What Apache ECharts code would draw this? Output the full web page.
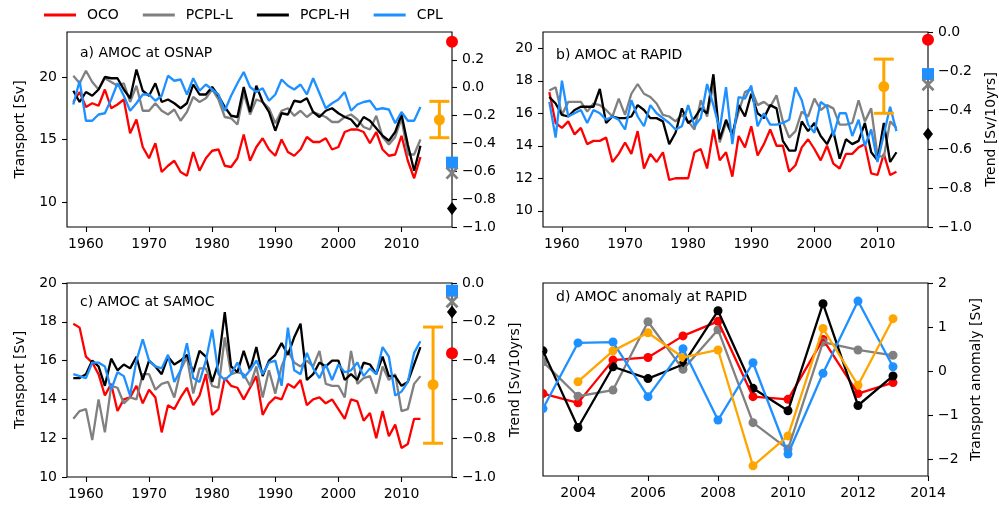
<!DOCTYPE html>
<html>
<head>
<meta charset="utf-8">
<script src="https://cdn.jsdelivr.net/npm/echarts@6/dist/echarts.min.js"></script>
<style>
  html, body { margin: 0; padding: 0; background: #fff; }
  #chart { width: 999px; height: 505px; }
</style>
</head>
<body>
<div id="chart"></div>
<script>
// ---- annual transport series, 1958-2013 ----
const YEARS = [1958,1959,1960,1961,1962,1963,1964,1965,1966,1967,
  1968,1969,1970,1971,1972,1973,1974,1975,1976,1977,
  1978,1979,1980,1981,1982,1983,1984,1985,1986,1987,
  1988,1989,1990,1991,1992,1993,1994,1995,1996,1997,
  1998,1999,2000,2001,2002,2003,2004,2005,2006,2007,
  2008,2009,2010,2011,2012,2013];

// OSNAP [Sv]
const osnapOCO = [18.0,18.8,17.6,17.9,17.7,19.0,17.5,17.8,18.2,15.5,
  16.6,14.4,13.5,14.7,12.4,12.9,13.3,12.4,12.1,14.0,
  12.5,13.5,14.1,14.2,12.9,12.8,13.5,15.4,13.3,14.4,
  15.1,14.2,13.7,15.0,14.0,13.7,14.2,15.2,14.8,14.8,
  15.1,14.2,14.4,15.6,15.8,15.8,15.6,14.7,15.6,14.2,
  13.7,13.8,15.3,13.3,11.9,13.6];
const osnapPCPLL = [20.1,19.5,20.5,19.6,19.0,19.9,19.6,19.3,19.5,18.0,
  19.3,17.3,17.3,17.9,17.3,17.0,17.4,16.5,17.2,18.4,
  18.0,18.3,19.0,18.2,16.8,16.7,16.2,18.7,17.0,18.2,
  18.0,17.5,16.3,17.3,17.5,16.9,17.3,16.8,17.2,17.0,
  16.8,16.4,16.4,16.8,17.0,16.6,16.0,15.8,16.9,15.2,
  14.6,15.2,16.7,13.8,13.8,15.0];
const osnapPCPLH = [18.9,18.0,18.8,18.5,19.0,20.0,19.9,19.9,19.0,18.3,
  20.6,18.9,18.5,19.5,18.0,18.2,17.9,17.5,17.9,19.4,
  18.6,18.6,19.2,18.5,17.6,16.9,16.8,19.2,17.2,19.3,
  18.0,17.2,15.7,17.1,17.0,18.1,18.0,18.3,17.2,16.8,
  17.3,17.5,17.1,16.8,16.6,16.0,16.8,16.5,15.9,15.3,
  14.9,15.6,17.0,14.6,12.5,14.5];
const osnapCPL = [17.8,19.7,16.5,16.5,17.0,17.1,18.2,19.5,18.5,17.3,
  17.9,18.6,18.6,18.1,18.5,20.1,19.7,19.8,18.6,19.9,
  18.9,19.4,19.0,18.6,17.3,18.5,19.5,20.4,19.2,18.8,
  19.1,18.1,18.6,19.8,19.3,19.0,19.4,18.6,19.9,18.7,
  17.5,17.9,18.2,18.8,17.3,17.8,18.0,18.1,17.4,17.5,
  17.4,16.3,17.2,16.5,16.5,17.6];

// RAPID [Sv]
const rapidOCO = [17.3,15.4,15.1,15.5,14.7,15.1,14.1,14.3,14.3,14.5,
  13.0,13.5,14.2,13.5,14.9,12.6,13.5,13.0,13.6,11.9,
  12.0,12.0,12.0,13.6,13.8,12.6,15.0,13.1,13.6,12.1,
  14.6,13.9,15.2,13.4,14.1,15.0,14.0,14.0,12.4,12.8,
  13.9,14.4,13.8,13.1,14.0,12.9,12.6,13.5,13.5,13.9,
  14.1,12.3,12.2,13.5,12.2,12.4];
const rapidPCPLL = [17.4,17.6,15.9,16.7,16.7,16.7,16.1,16.6,16.5,16.2,
  15.8,16.9,15.9,17.2,17.8,17.2,17.0,16.6,15.9,15.8,
  15.5,15.9,15.5,15.0,16.8,15.8,17.8,14.2,15.4,14.7,
  16.1,17.3,17.5,16.5,16.7,16.4,17.1,15.5,14.5,14.9,
  16.1,15.8,16.9,16.2,16.5,16.3,15.3,15.3,15.4,16.8,
  15.5,16.3,13.4,13.3,15.5,15.1];
const rapidPCPLH = [17.0,16.6,15.9,15.8,16.2,16.4,16.4,16.4,17.5,15.4,
  15.8,15.7,15.7,15.8,16.5,16.2,15.7,15.7,15.5,14.1,
  14.8,16.3,15.4,15.7,16.3,16.0,18.4,14.4,15.6,14.6,
  16.5,15.8,17.2,16.0,15.7,16.5,16.3,14.3,13.7,13.7,
  15.5,14.9,15.4,14.6,14.1,14.9,13.2,14.4,14.1,14.3,
  15.4,13.6,13.1,15.4,13.0,13.6];
const rapidCPL = [16.7,14.5,18.0,15.8,16.0,16.2,15.4,16.2,16.0,15.6,
  15.8,15.6,15.0,16.8,15.8,15.2,16.5,16.0,15.7,15.4,
  15.0,15.2,16.5,15.2,15.7,17.8,16.5,15.0,17.6,14.1,
  17.0,16.9,17.7,15.2,16.0,15.3,15.3,15.4,15.6,17.6,
  16.8,15.3,14.8,16.7,16.4,14.6,16.0,16.0,14.6,15.6,
  14.0,15.0,13.0,14.7,16.4,14.9];

// SAMOC [Sv]
const samocOCO = [17.9,17.7,16.2,15.9,15.3,14.2,14.8,13.4,14.0,14.1,
  14.7,13.8,14.5,14.1,12.3,13.7,13.5,14.1,14.6,13.7,
  14.2,15.3,13.2,13.5,15.1,14.7,14.6,14.0,14.6,15.2,
  13.2,13.8,14.1,14.0,14.8,14.6,15.0,13.7,14.0,14.1,
  13.8,14.0,13.5,13.0,14.0,13.9,12.9,13.3,12.0,13.4,
  12.1,12.7,11.5,11.7,13.0,13.0];
const samocPCPLL = [13.0,13.4,13.5,11.9,14.0,12.3,14.7,14.6,13.8,14.1,
  14.0,15.3,15.3,14.5,14.8,14.9,14.1,15.5,16.2,14.3,
  15.6,15.6,14.7,14.6,17.2,15.3,15.4,15.3,14.7,15.7,
  14.1,15.5,14.3,15.7,16.5,15.9,15.7,16.0,15.7,16.5,
  14.8,14.7,14.7,14.1,16.5,14.8,15.1,15.2,14.3,15.7,
  15.0,15.3,13.4,13.5,14.8,15.2];
const samocPCPLH = [15.1,15.1,15.3,16.0,15.7,14.7,16.1,15.5,15.8,15.6,
  16.2,15.0,16.0,15.7,15.3,16.2,15.8,16.0,16.3,15.4,
  16.5,16.2,14.9,15.9,18.5,15.7,15.4,16.5,15.5,16.7,
  15.2,16.0,16.3,16.9,16.3,17.2,17.9,15.0,15.3,15.9,
  15.7,16.0,16.0,15.0,15.3,15.0,15.9,15.8,15.3,16.2,
  15.2,15.2,14.7,14.9,15.8,16.7];
const samocCPL = [15.3,15.2,15.1,15.9,15.9,15.7,14.5,15.4,15.2,14.2,
  16.0,17.1,16.0,15.7,15.6,16.3,14.9,15.5,16.9,15.1,
  14.9,16.0,17.6,15.3,15.0,15.3,15.9,15.1,15.5,16.0,
  15.3,15.9,16.0,14.7,17.7,15.5,15.3,16.4,15.6,15.1,
  15.8,15.0,15.8,15.4,15.5,15.9,15.2,15.6,15.3,16.7,
  16.2,14.2,14.4,14.9,16.4,17.0];

// ---- linear trends [Sv/10yrs]: OCO, PCPL-L, PCPL-H, CPL ----
const TREND_X = 2018;
const osnapTrend = { OCO: 0.33, PCPLL: -0.613, PCPLH: -0.868, CPL: -0.538 };
const rapidTrend = { OCO: -0.04, PCPLL: -0.27, PCPLH: -0.523, CPL: -0.216 };
const samocTrend = { OCO: -0.362, PCPLL: -0.097, PCPLH: -0.149, CPL: -0.04 };
// observed trend with uncertainty: [year, mean, low, high]
const osnapObsTrend = [2016, -0.23, -0.359, -0.098];
const rapidObsTrend = [2011, -0.28, -0.417, -0.139];
const samocObsTrend = [2015, -0.524, -0.826, -0.227];

// ---- RAPID annual anomaly [Sv] ----
const ANOM_YEARS = [2003,2004,2005,2006,2007,2008,2009,2010,2011,2012,2013];
const anomOCO   = [-0.51,-0.72,0.25,0.31,0.80,1.13,-0.58,-0.64,0.72,-0.51,-0.26];
const anomPCPLL = [0.21,-0.57,-0.43,1.12,0.04,0.94,-1.17,-1.77,0.66,0.48,0.36];
const anomPCPLH = [0.46,-1.28,0.10,-0.17,0.15,1.37,-0.39,-0.90,1.53,-0.78,-0.11];
const anomCPL   = [-0.85,0.64,0.66,-0.58,0.51,-1.11,0.19,-1.88,-0.05,1.59,0.10];
const OBS_YEARS = [2004,2005,2006,2007,2008,2009,2010,2011,2012,2013];
const anomObs   = [-0.24,0.46,0.87,0.31,0.48,-2.15,-1.47,0.97,-0.32,1.19];

// ---- tick positions ----
const DECADE_TICKS = [1960,1970,1980,1990,2000,2010];
const ANOM_X_TICKS = [2004,2006,2008,2010,2012,2014];
const OSNAP_TICKS = [10,15,20];
const RAPID_TICKS = [10,12,14,16,18,20];
const SAMOC_TICKS = [10,12,14,16,18,20];
const TREND_TICKS_A = [-1.0,-0.8,-0.6,-0.4,-0.2,0.0,0.2];
const TREND_TICKS = [-1.0,-0.8,-0.6,-0.4,-0.2,0.0];
const ANOM_Y_TICKS = [-2,-1,0,1,2];

// ---- styling ----
const FONT = 'DejaVu Sans';
const C = { OCO: '#ff0000', PCPLL: '#808080', PCPLH: '#000000', CPL: '#1e90ff', OBS: '#ffa500' };
const NAMES = { OCO: 'OCO', PCPLL: 'PCPL-L', PCPLH: 'PCPL-H', CPL: 'CPL' };
const LW = 2.3;
const MINUS = '\u2212';
const fmt1 = v => (v < 0 ? MINUS : '') + Math.abs(v).toFixed(1);
const fmt0 = v => (v < 0 ? MINUS : '') + Math.abs(v).toFixed(0);
const X_SYMBOL = 'path://M0,1.5 L1.5,0 L5,3.5 L8.5,0 L10,1.5 L6.5,5 L10,8.5 L8.5,10 L5,6.5 L1.5,10 L0,8.5 L3.5,5 Z';

const grids = [
  { left: 67,  top: 32,  width: 385, height: 195 },
  { left: 543, top: 32,  width: 385, height: 195 },
  { left: 67,  top: 283, width: 385, height: 194 },
  { left: 543, top: 283, width: 385, height: 193 }
].map(g => Object.assign(g, { show: true, borderColor: '#000', borderWidth: 1.1, backgroundColor: 'transparent', containLabel: false }));

function axisCommon(ticks, formatter, margin) {
  return {
    axisLine: { show: false, onZero: false },
    axisTick: { show: true, inside: false, length: 5, lineStyle: { color: '#000', width: 1.1 }, customValues: ticks },
    axisLabel: { show: true, customValues: ticks, formatter, margin, color: '#000', fontSize: 14, fontFamily: FONT },
    splitLine: { show: false }
  };
}

function xAxis(gridIndex, min, max, ticks) {
  return Object.assign({ type: 'value', gridIndex, min, max, position: 'bottom' },
    axisCommon(ticks, v => String(v), 10));
}

function yAxis(gridIndex, position, min, max, ticks, formatter, name, nameGap) {
  const ax = Object.assign({ type: 'value', gridIndex, position, min, max },
    axisCommon(ticks, formatter, 10));
  if (name) {
    Object.assign(ax, {
      name, nameLocation: 'middle', nameGap, nameRotate: 90,
      nameTextStyle: { color: '#000', fontSize: 14, fontFamily: FONT }
    });
  }
  return ax;
}

const xAxes = [
  xAxis(0, 1957, 2018, DECADE_TICKS),
  xAxis(1, 1957, 2018, DECADE_TICKS),
  xAxis(2, 1957, 2018, DECADE_TICKS),
  xAxis(3, 2003, 2014, ANOM_X_TICKS)
];

const yAxes = [
  yAxis(0, 'left', 8, 23.6, OSNAP_TICKS, fmt0, 'Transport [Sv]', 40),
  yAxis(0, 'right', -1.0, 0.4, TREND_TICKS_A, fmt1),
  yAxis(1, 'left', 9, 21, RAPID_TICKS, fmt0),
  yAxis(1, 'right', -1.0, 0.0, TREND_TICKS, fmt1, 'Trend [Sv/10yrs]', 56),
  yAxis(2, 'left', 10, 20, SAMOC_TICKS, fmt0, 'Transport [Sv]', 40),
  yAxis(2, 'right', -1.0, 0.0, TREND_TICKS, fmt1, 'Trend [Sv/10yrs]', 56),
  yAxis(3, 'right', -2.38, 2, ANOM_Y_TICKS, fmt0, 'Transport anomaly [Sv]', 41)
];

function timeSeries(key, xi, yi, values) {
  return {
    type: 'line', name: NAMES[key], xAxisIndex: xi, yAxisIndex: yi,
    data: YEARS.map((y, i) => [y, values[i]]),
    symbol: 'none', showSymbol: false,
    lineStyle: { color: C[key], width: LW }, itemStyle: { color: C[key] },
    animation: false
  };
}

const TREND_SYMBOL = {
  OCO:   { symbol: 'circle', size: 12 },
  CPL:   { symbol: 'rect', size: 12 },
  PCPLH: { symbol: 'diamond', size: [10, 13] },
  PCPLL: { symbol: X_SYMBOL, size: 13 }
};

function trendMarkers(xi, yi, trend) {
  return ['OCO', 'CPL', 'PCPLH', 'PCPLL'].map(key => ({
    type: 'scatter', name: NAMES[key], xAxisIndex: xi, yAxisIndex: yi,
    data: [[TREND_X, trend[key]]],
    symbol: TREND_SYMBOL[key].symbol, symbolSize: TREND_SYMBOL[key].size,
    itemStyle: { color: C[key], opacity: 1 }, clip: false, z: 5, animation: false
  }));
}

function errorBar(xi, yi, rec) {
  return {
    type: 'custom', name: 'obs', xAxisIndex: xi, yAxisIndex: yi,
    data: [rec], encode: { x: 0, y: [1, 2, 3] }, clip: false, z: 4, animation: false,
    renderItem(params, api) {
      const x = api.value(0);
      const pc = api.coord([x, api.value(1)]);
      const pl = api.coord([x, api.value(2)]);
      const ph = api.coord([x, api.value(3)]);
      const st = { stroke: C.OBS, lineWidth: 3 };
      return {
        type: 'group', children: [
          { type: 'line', shape: { x1: pl[0], y1: pl[1], x2: ph[0], y2: ph[1] }, style: st },
          { type: 'line', shape: { x1: pl[0] - 10, y1: pl[1], x2: pl[0] + 10, y2: pl[1] }, style: st },
          { type: 'line', shape: { x1: ph[0] - 10, y1: ph[1], x2: ph[0] + 10, y2: ph[1] }, style: st },
          { type: 'circle', shape: { cx: pc[0], cy: pc[1], r: 5.5 }, style: { fill: C.OBS } }
        ]
      };
    }
  };
}

// anomaly panel: a line plus round markers clipped to the plot frame
function anomSeries(name, color, xs, values) {
  const data = xs.map((y, i) => [y, values[i]]);
  return [
    {
      type: 'line', name, xAxisIndex: 3, yAxisIndex: 6, data,
      symbol: 'none', showSymbol: false,
      lineStyle: { color, width: LW }, itemStyle: { color },
      animation: false
    },
    {
      type: 'custom', name: name + ' markers', xAxisIndex: 3, yAxisIndex: 6, data,
      encode: { x: 0, y: 1 }, clip: true, animation: false,
      renderItem(params, api) {
        const p = api.coord([api.value(0), api.value(1)]);
        return { type: 'circle', shape: { cx: p[0], cy: p[1], r: 4.5 }, style: { fill: color } };
      }
    }
  ];
}

const series = [
  timeSeries('OCO', 0, 0, osnapOCO), timeSeries('PCPLL', 0, 0, osnapPCPLL),
  timeSeries('PCPLH', 0, 0, osnapPCPLH), timeSeries('CPL', 0, 0, osnapCPL),
  ...trendMarkers(0, 1, osnapTrend), errorBar(0, 1, osnapObsTrend),

  timeSeries('OCO', 1, 2, rapidOCO), timeSeries('PCPLL', 1, 2, rapidPCPLL),
  timeSeries('PCPLH', 1, 2, rapidPCPLH), timeSeries('CPL', 1, 2, rapidCPL),
  ...trendMarkers(1, 3, rapidTrend), errorBar(1, 3, rapidObsTrend),

  timeSeries('OCO', 2, 4, samocOCO), timeSeries('PCPLL', 2, 4, samocPCPLL),
  timeSeries('PCPLH', 2, 4, samocPCPLH), timeSeries('CPL', 2, 4, samocCPL),
  ...trendMarkers(2, 5, samocTrend), errorBar(2, 5, samocObsTrend),

  ...anomSeries('OCO', C.OCO, ANOM_YEARS, anomOCO),
  ...anomSeries('PCPL-L', C.PCPLL, ANOM_YEARS, anomPCPLL),
  ...anomSeries('PCPL-H', C.PCPLH, ANOM_YEARS, anomPCPLH),
  ...anomSeries('CPL', C.CPL, ANOM_YEARS, anomCPL),
  ...anomSeries('RAPID', C.OBS, OBS_YEARS, anomObs)
];

const titleStyle = { fontSize: 14, fontWeight: 'normal', fontFamily: FONT, color: '#000' };
const titles = [
  { text: 'a) AMOC at OSNAP', left: 80, top: 46 },
  { text: 'b) AMOC at RAPID', left: 556, top: 48 },
  { text: 'c) AMOC at SAMOC', left: 80, top: 295 },
  { text: 'd) AMOC anomaly at RAPID', left: 556, top: 290 }
].map(t => Object.assign(t, { padding: 0, textStyle: titleStyle }));

const chart = echarts.init(document.getElementById('chart'), null, { renderer: 'canvas' });
chart.setOption({
  backgroundColor: '#fff',
  animation: false,
  title: titles,
  legend: {
    data: ['OCO', 'PCPL-L', 'PCPL-H', 'CPL'],
    left: 44, top: 8, padding: 0,
    icon: 'rect', itemWidth: 32, itemHeight: 3, itemGap: 24,
    textStyle: { fontSize: 14, fontFamily: FONT, color: '#000', padding: [0, 0, 0, 6] },
    selectedMode: false
  },
  grid: grids,
  xAxis: xAxes,
  yAxis: yAxes,
  series
});
</script>
</body>
</html>
